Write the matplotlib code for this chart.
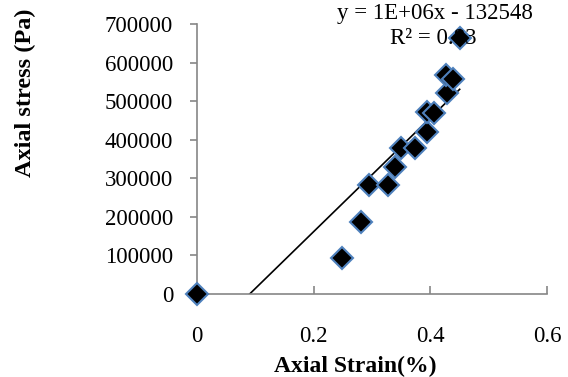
#!/usr/bin/env python
"""
Axial stress vs axial strain scatter with linear trendline
"""

import numpy as np
import matplotlib.pyplot as plt

plt.rcParams['font.family'] = ['Liberation Serif', 'DejaVu Serif']

strain = [0.0, 0.249, 0.282, 0.294, 0.327, 0.339, 0.349, 0.373, 0.394,
          0.394, 0.406, 0.429, 0.427, 0.439, 0.450]
stress = [0, 92600, 187500, 282600, 282600, 330000, 377700, 377700, 420800,
          472600, 468500, 520300, 567800, 556600, 662900]

eq_text = 'y = 1E+06x - 132548'
r2_text = 'R\u00b2 = 0.83'


def main():
    x = np.array(strain)
    y = np.array(stress)
    slope, icpt = np.polyfit(x, y, 1)

    fig = plt.figure(figsize=(5.68, 3.77), dpi=100)
    ax = fig.add_axes([0.3463, 0.2202, 0.6173, 0.7161])

    xs = np.array([x.min(), x.max()])
    ax.plot(xs, slope * xs + icpt, 'k-', lw=1.2, zorder=2)
    ax.plot(x, y, linestyle='none', marker='D', markersize=11,
            markerfacecolor='black', markeredgecolor='#4F81BD',
            markeredgewidth=1.5, clip_on=False, zorder=3)

    ax.set_xlim(0, 0.6)
    ax.set_ylim(0, 700000)
    ax.set_xticks([0, 0.2, 0.4, 0.6])
    ax.set_xticklabels(['0', '0.2', '0.4', '0.6'])
    ax.set_yticks(np.arange(0, 700001, 100000))
    ax.set_yticklabels([str(v) for v in range(0, 700001, 100000)])

    for s in ['top', 'right']:
        ax.spines[s].set_visible(False)
    for s in ['left', 'bottom']:
        ax.spines[s].set_color('#868686')
        ax.spines[s].set_linewidth(1.2)

    ax.tick_params(axis='x', direction='in', length=6, width=1.2,
                   color='#868686', pad=23, labelsize=16.5)
    ax.tick_params(axis='y', direction='out', length=5, width=1.2,
                   color='#868686', pad=12, labelsize=16.5)

    fig.text(355 / 568, 1 - 366 / 377, 'Axial Strain(%)', ha='center',
             va='center', fontsize=17, fontweight='bold')
    fig.text(25 / 568, 1 - 93 / 377, 'Axial stress (Pa)', ha='center',
             va='center', rotation=90, fontsize=17.5, fontweight='bold')

    fig.text(435 / 568, 1 - 14 / 377, eq_text, ha='center', va='center',
             fontsize=16.5)
    fig.text(433 / 568, 1 - 38 / 377, r2_text, ha='center', va='center',
             fontsize=16.5)

    fig.savefig('out.png', dpi=100)


# --------------------
if __name__ == '__main__':
    main()
